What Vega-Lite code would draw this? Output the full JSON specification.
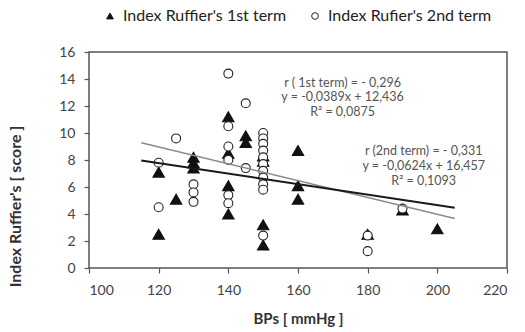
{
  "$schema": "https://vega.github.io/schema/vega-lite/v6.json",
  "width": 418,
  "height": 216,
  "autosize": {"type": "none"},
  "padding": {"left": 89, "top": 52, "right": 18, "bottom": 64},
  "background": "white",
  "config": {
    "font": "Lato",
    "view": {"stroke": "#555", "strokeWidth": 1.5},
    "axis": {"grid": false, "domain": false, "tickColor": "#555", "tickSize": 5, "tickWidth": 1.2, "labelFont": "Lato", "labelFontSize": 14, "labelColor": "#444", "titleFont": "Lato", "titleFontSize": 15, "titleFontWeight": "bold", "titleColor": "#333"},
    "legend": {"title": null, "orient": "none", "legendX": 13, "legendY": -44, "direction": "horizontal", "labelFont": "Lato", "labelFontSize": 16, "labelColor": "#222", "labelLimit": 0, "symbolSize": 45, "symbolStrokeWidth": 1, "columnPadding": 20, "labelOffset": 5}
  },
  "datasets": {
    "pts": [
      {"bp": 120, "score": 7.1, "series": "Index Ruffier's 1st term"},
      {"bp": 120, "score": 2.5, "series": "Index Ruffier's 1st term"},
      {"bp": 125, "score": 5.1, "series": "Index Ruffier's 1st term"},
      {"bp": 130, "score": 8.2, "series": "Index Ruffier's 1st term"},
      {"bp": 130, "score": 7.8, "series": "Index Ruffier's 1st term"},
      {"bp": 130, "score": 7.4, "series": "Index Ruffier's 1st term"},
      {"bp": 140, "score": 11.2, "series": "Index Ruffier's 1st term"},
      {"bp": 140, "score": 8.5, "series": "Index Ruffier's 1st term"},
      {"bp": 140, "score": 6.1, "series": "Index Ruffier's 1st term"},
      {"bp": 140, "score": 4.0, "series": "Index Ruffier's 1st term"},
      {"bp": 145, "score": 9.8, "series": "Index Ruffier's 1st term"},
      {"bp": 145, "score": 9.3, "series": "Index Ruffier's 1st term"},
      {"bp": 150, "score": 8.3, "series": "Index Ruffier's 1st term"},
      {"bp": 150, "score": 7.9, "series": "Index Ruffier's 1st term"},
      {"bp": 150, "score": 3.2, "series": "Index Ruffier's 1st term"},
      {"bp": 150, "score": 1.7, "series": "Index Ruffier's 1st term"},
      {"bp": 160, "score": 8.7, "series": "Index Ruffier's 1st term"},
      {"bp": 160, "score": 6.1, "series": "Index Ruffier's 1st term"},
      {"bp": 160, "score": 5.1, "series": "Index Ruffier's 1st term"},
      {"bp": 180, "score": 2.5, "series": "Index Ruffier's 1st term"},
      {"bp": 190, "score": 4.3, "series": "Index Ruffier's 1st term"},
      {"bp": 200, "score": 2.9, "series": "Index Ruffier's 1st term"},
      {"bp": 120, "score": 7.8, "series": "Index Rufier's 2nd term"},
      {"bp": 120, "score": 4.5, "series": "Index Rufier's 2nd term"},
      {"bp": 125, "score": 9.6, "series": "Index Rufier's 2nd term"},
      {"bp": 130, "score": 6.2, "series": "Index Rufier's 2nd term"},
      {"bp": 130, "score": 5.6, "series": "Index Rufier's 2nd term"},
      {"bp": 130, "score": 4.9, "series": "Index Rufier's 2nd term"},
      {"bp": 140, "score": 14.4, "series": "Index Rufier's 2nd term"},
      {"bp": 140, "score": 10.5, "series": "Index Rufier's 2nd term"},
      {"bp": 140, "score": 9.0, "series": "Index Rufier's 2nd term"},
      {"bp": 140, "score": 8.0, "series": "Index Rufier's 2nd term"},
      {"bp": 140, "score": 5.4, "series": "Index Rufier's 2nd term"},
      {"bp": 140, "score": 4.8, "series": "Index Rufier's 2nd term"},
      {"bp": 145, "score": 12.2, "series": "Index Rufier's 2nd term"},
      {"bp": 145, "score": 7.4, "series": "Index Rufier's 2nd term"},
      {"bp": 150, "score": 10.0, "series": "Index Rufier's 2nd term"},
      {"bp": 150, "score": 9.6, "series": "Index Rufier's 2nd term"},
      {"bp": 150, "score": 9.2, "series": "Index Rufier's 2nd term"},
      {"bp": 150, "score": 8.7, "series": "Index Rufier's 2nd term"},
      {"bp": 150, "score": 8.2, "series": "Index Rufier's 2nd term"},
      {"bp": 150, "score": 7.7, "series": "Index Rufier's 2nd term"},
      {"bp": 150, "score": 7.2, "series": "Index Rufier's 2nd term"},
      {"bp": 150, "score": 6.7, "series": "Index Rufier's 2nd term"},
      {"bp": 150, "score": 6.2, "series": "Index Rufier's 2nd term"},
      {"bp": 150, "score": 5.8, "series": "Index Rufier's 2nd term"},
      {"bp": 150, "score": 2.4, "series": "Index Rufier's 2nd term"},
      {"bp": 180, "score": 2.4, "series": "Index Rufier's 2nd term"},
      {"bp": 180, "score": 1.25, "series": "Index Rufier's 2nd term"},
      {"bp": 190, "score": 4.4, "series": "Index Rufier's 2nd term"}
    ],
    "trend": [
      {"term": "1st", "bp": 115, "score": 7.9625},
      {"term": "1st", "bp": 205, "score": 4.4615},
      {"term": "2nd", "bp": 115, "score": 9.281},
      {"term": "2nd", "bp": 205, "score": 3.665}
    ],
    "notes": [
      {"bp": 172.8, "score": 13.74, "label": "r ( 1st term) = - 0,296"},
      {"bp": 172.8, "score": 12.63, "label": "y = -0,0389x + 12,436"},
      {"bp": 172.8, "score": 11.52, "label": "R² = 0,0875"},
      {"bp": 196.1, "score": 8.63, "label": "r (2nd term) = - 0,331"},
      {"bp": 196.1, "score": 7.52, "label": "y = -0,0624x + 16,457"},
      {"bp": 196.1, "score": 6.41, "label": "R² = 0,1093"}
    ]
  },
  "encoding": {
    "x": {"field": "bp", "type": "quantitative", "scale": {"domain": [100, 220], "nice": false, "zero": false}, "axis": {"values": [100, 120, 140, 160, 180, 200, 220], "title": "BPs [ mmHg ]", "labelPadding": 10, "titlePadding": 14}},
    "y": {"field": "score", "type": "quantitative", "scale": {"domain": [0, 16], "nice": false}, "axis": {"values": [0, 2, 4, 6, 8, 10, 12, 14, 16], "title": "Index Ruffier's [ score ]", "titleFontSize": 16, "labelPadding": 9, "titleX": -74, "titleY": 154, "titleAlign": "center", "titleBaseline": "middle", "titleAngle": 270}}
  },
  "layer": [
    {
      "data": {"name": "pts"},
      "transform": [{"filter": "datum.series == \"Index Ruffier's 1st term\""}],
      "mark": {"type": "point", "strokeWidth": 1.1, "opacity": 1, "size": 130},
      "encoding": {
        "shape": {"field": "series", "type": "nominal", "scale": {"domain": ["Index Ruffier's 1st term", "Index Rufier's 2nd term"], "range": ["triangle-up", "circle"]}},
        "fill": {"field": "series", "type": "nominal", "scale": {"domain": ["Index Ruffier's 1st term", "Index Rufier's 2nd term"], "range": ["#111111", "#ffffff"]}},
        "stroke": {"field": "series", "type": "nominal", "scale": {"domain": ["Index Ruffier's 1st term", "Index Rufier's 2nd term"], "range": ["#111111", "#222222"]}}
      }
    },
    {
      "data": {"name": "pts"},
      "transform": [{"filter": "datum.series == \"Index Rufier's 2nd term\""}],
      "mark": {"type": "point", "strokeWidth": 1.1, "opacity": 1, "size": 80},
      "encoding": {
        "shape": {"field": "series", "type": "nominal", "scale": {"domain": ["Index Ruffier's 1st term", "Index Rufier's 2nd term"], "range": ["triangle-up", "circle"]}},
        "fill": {"field": "series", "type": "nominal", "scale": {"domain": ["Index Ruffier's 1st term", "Index Rufier's 2nd term"], "range": ["#111111", "#ffffff"]}},
        "stroke": {"field": "series", "type": "nominal", "scale": {"domain": ["Index Ruffier's 1st term", "Index Rufier's 2nd term"], "range": ["#111111", "#222222"]}}
      }
    },
    {
      "data": {"name": "trend"},
      "transform": [{"filter": "datum.term == '2nd'"}],
      "mark": {"type": "line", "color": "#8a8a8a", "strokeWidth": 1.6},
      "encoding": {}
    },
    {
      "data": {"name": "trend"},
      "transform": [{"filter": "datum.term == '1st'"}],
      "mark": {"type": "line", "color": "#1a1a1a", "strokeWidth": 2},
      "encoding": {}
    },
    {
      "data": {"name": "notes"},
      "mark": {"type": "text", "align": "center", "baseline": "middle", "font": "Lato", "fontSize": 12.5, "color": "#555"},
      "encoding": {"text": {"field": "label"}}
    }
  ]
}
